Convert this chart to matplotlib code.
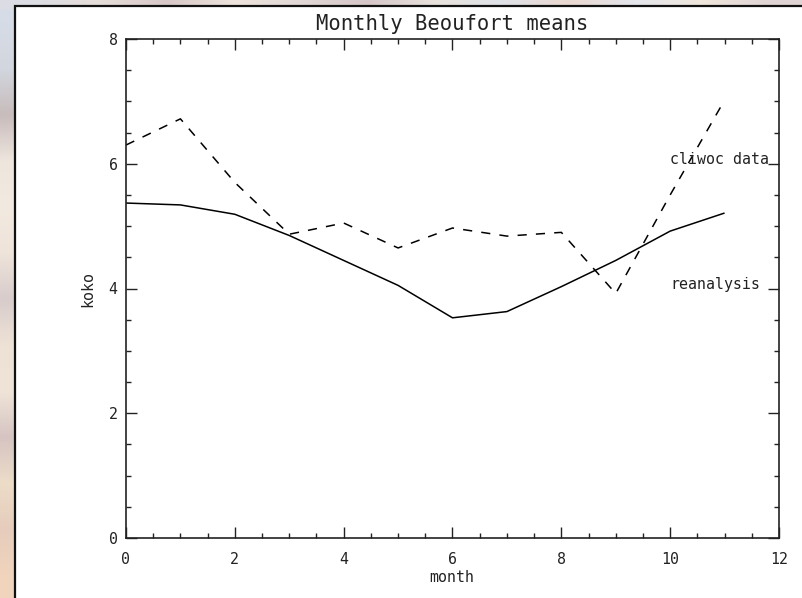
import matplotlib
matplotlib.use("Agg")
import matplotlib.pyplot as plt
import numpy as np
from matplotlib.patches import Rectangle
from matplotlib.colors import to_rgb

# ---- data ----
months = [0, 1, 2, 3, 4, 5, 6, 7, 8, 9, 10, 11]
cliwoc = [6.30, 6.72, 5.70, 4.87, 5.05, 4.65, 4.97, 4.84, 4.90, 3.92, 5.50, 7.02]
reanalysis = [5.37, 5.34, 5.19, 4.85, 4.45, 4.05, 3.53, 3.63, 4.03, 4.45, 4.92, 5.21]
xticks = [0, 2, 4, 6, 8, 10, 12]
yticks = [0, 2, 4, 6, 8]
title = "Monthly Beoufort means"
xlabel = "month"
ylabel = "koko"
label_cliwoc = "cliwoc data"
label_rean = "reanalysis"

W, H = 803, 598
plt.rcParams['font.family'] = ['DejaVu Sans Mono', 'DejaVu Sans']
fig = plt.figure(figsize=(W / 100, H / 100), dpi=100)

FS = 10.7
TXT = '#222222'

# ---- decorative blurred background strips ----
left_cols = ["#d6dce7", "#d2d6de", "#c8bcbc", "#eee5dd", "#f2e9e0", "#efe4da",
             "#d8cccc", "#eee2d6", "#f0e4d8", "#d6c4c2", "#ecdcc8", "#e6ccbc", "#f0d4bc"]
top_cols = ["#dcdde4", "#e6ddd8", "#d8c8c8", "#eee4dc", "#e2d8d6", "#d6c6c8",
            "#e9e2dc", "#dfe2e8", "#ead8d0", "#e4e6ec", "#f0e6dc", "#e0d4d4"]
axl = fig.add_axes([0, 0, 20 / W, 1])
axl.imshow(np.array([to_rgb(c) for c in left_cols])[:, None, :], aspect='auto',
           interpolation='bilinear', extent=[0, 1, 0, 1])
axl.set_axis_off()
axt = fig.add_axes([0, 1 - 10 / H, 1, 10 / H])
axt.imshow(np.array([to_rgb(c) for c in top_cols])[None, :, :], aspect='auto',
           interpolation='bilinear', extent=[0, 1, 0, 1])
axt.set_axis_off()

# white panel with dark border
fig.patches.append(Rectangle((15 / W, -0.01), 1.0, 1 - 6 / H + 0.01,
                             transform=fig.transFigure, facecolor='white',
                             edgecolor='#111111', linewidth=1.6, zorder=2))

# ---- main axes ----
ax = fig.add_axes([126 / W, 1 - 538 / H, (779 - 126) / W, (538 - 39) / H])
ax.set_zorder(5)
ax.set_facecolor('white')
ax.plot(months, reanalysis, color='black', lw=1.1, solid_capstyle='butt')
ax.plot(months, cliwoc, color='black', lw=1.1, linestyle=(0, (6, 6)))

ax.set_xlim(0, 12)
ax.set_ylim(0, 8)
ax.set_xticks(xticks)
ax.set_yticks(yticks)
ax.set_xticks(np.arange(0, 12.01, 0.5), minor=True)
ax.set_yticks(np.arange(0, 8.01, 0.5), minor=True)
ax.set_xticklabels([str(t) for t in xticks])
ax.set_yticklabels([str(t) for t in yticks])
ax.tick_params(which='both', direction='in', top=True, right=True, width=1.0,
               color=TXT, labelsize=FS, labelcolor=TXT)
ax.tick_params(which='major', length=8)
ax.tick_params(which='minor', length=3.8)
ax.tick_params(axis='x', pad=10)
ax.tick_params(axis='y', pad=6)
for s in ax.spines.values():
    s.set_linewidth(1.2)
    s.set_color(TXT)

ax.text(10, 6.0, label_cliwoc, ha='left', va='baseline', fontsize=FS, color=TXT)
ax.text(10, 4.0, label_rean, ha='left', va='baseline', fontsize=FS, color=TXT)

fig.text(452 / W, 1 - 30 / H, title, ha='center', va='baseline', fontsize=14.8,
         color=TXT, zorder=6)
fig.text(452 / W, 1 - 577 / H, xlabel, ha='center', va='center', fontsize=FS,
         color=TXT, zorder=6)
fig.text(88 / W, 1 - 289 / H, ylabel, ha='center', va='center', rotation=90,
         fontsize=FS, color=TXT, zorder=6)

fig.savefig("out.png", dpi=100)
